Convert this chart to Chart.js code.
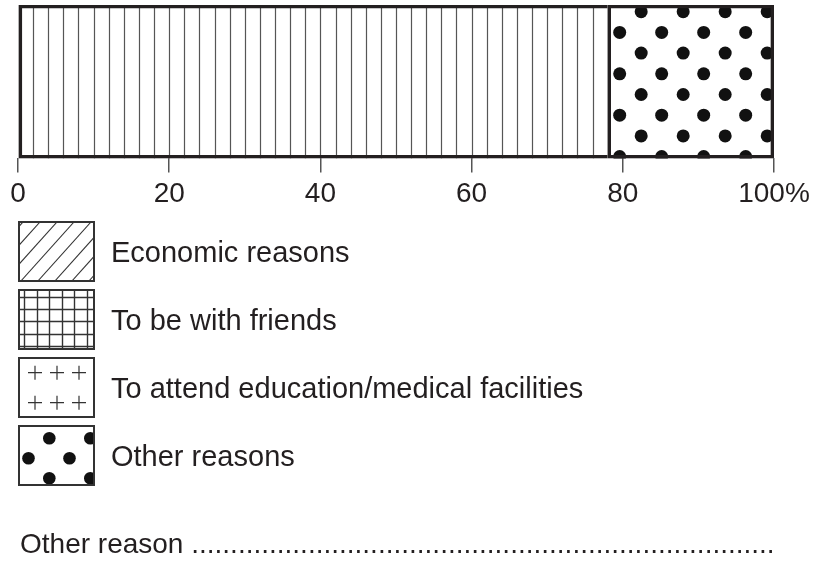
<!DOCTYPE html>
<html><head><meta charset="utf-8">
<script src="https://cdn.jsdelivr.net/npm/chart.js@4"></script>
<style>html,body{margin:0;padding:0;background:#fff}canvas{display:block}</style>
</head><body>
<canvas id="c" width="816" height="568"></canvas>
<script>
// ---- data ----
const categories = [''];
const segmentNames = ['Other reason', 'Other reasons'];
const segmentValues = [78, 22];
const legendLabels = ['Economic reasons', 'To be with friends', 'To attend education/medical facilities', 'Other reasons'];
const tickLabels = ['0', '20', '40', '60', '80', '100%'];
const answerLabel = 'Other reason';

// ---- styles ----
const FONT = '"Liberation Sans", Arial, Helvetica, sans-serif';
const INK = '#231f20';
const segmentPatterns = ['vlines', 'dots'];
const legendPatterns = ['diagonal', 'grid', 'plus', 'dots'];
const LINE_STEP = 2;
const BAR_DOTS = {oy: 6.7, dy: 20.7, evenX: 33.5, oddX: 12, dx: 42, r: 6.5};
const LEG_DOTS = {oy: 13.3, dy: 20, evenX: 31.3, oddX: 10.5, dx: 41, r: 6.3};
const LEG = {x: 18, w: 77, h: 61, top: 221, gap: 68, textX: 111};

function drawDots(ctx, L, T, R, B, o) {
  ctx.fillStyle = '#111';
  for (let row = 0; ; row++) {
    const y = T + o.oy + row * o.dy;
    if (y - o.r > B) break;
    let x = L + (row % 2 === 0 ? o.evenX : o.oddX);
    for (; x - o.r < R; x += o.dx) {
      ctx.beginPath(); ctx.arc(x, y, o.r, 0, Math.PI * 2); ctx.fill();
    }
  }
}

function drawLegendPattern(ctx, kind, L, T, W, H) {
  const R = L + W, B = T + H;
  ctx.save();
  ctx.beginPath(); ctx.rect(L, T, W, H); ctx.clip();
  ctx.strokeStyle = '#333';
  if (kind === 'diagonal') {
    ctx.lineWidth = 1.1;
    const dx = H * 0.9, sp = 17;
    for (let bx = L + 2 - sp * 5; bx < R + sp; bx += sp) {
      ctx.beginPath(); ctx.moveTo(bx, B); ctx.lineTo(bx + dx, T); ctx.stroke();
    }
  } else if (kind === 'grid') {
    ctx.lineWidth = 1.4;
    for (let x = L + 6; x < R; x += 12.5) {
      ctx.beginPath(); ctx.moveTo(Math.round(x) + 0.5, T); ctx.lineTo(Math.round(x) + 0.5, B); ctx.stroke();
    }
    for (let y = T + 7.7; y < B; y += 12.4) {
      ctx.beginPath(); ctx.moveTo(L, Math.round(y) + 0.5); ctx.lineTo(R, Math.round(y) + 0.5); ctx.stroke();
    }
  } else if (kind === 'plus') {
    ctx.lineWidth = 1.2;
    const a = 7;
    for (let ry = 0; ry < 2; ry++) {
      for (let cx = 0; cx < 3; cx++) {
        const x = L + 17 + cx * 22, y = T + 15.7 + ry * 30;
        ctx.beginPath();
        ctx.moveTo(x - a, y); ctx.lineTo(x + a, y);
        ctx.moveTo(x, y - a); ctx.lineTo(x, y + a);
        ctx.stroke();
      }
    }
  } else if (kind === 'dots') {
    drawDots(ctx, L, T, R, B, LEG_DOTS);
  }
  ctx.restore();
  ctx.strokeStyle = '#333'; ctx.lineWidth = 2;
  ctx.strokeRect(L + 1, T + 1, W - 2, H - 2);
}

const patternPlugin = {
  id: 'patterns',
  beforeDatasetsDraw(chart) {
    const ctx = chart.ctx, xs = chart.scales.x;
    let cum = 0;
    chart.data.datasets.forEach((ds, i) => {
      const start = cum, end = cum + ds.data[0];
      cum = end;
      chart.getDatasetMeta(i).data.forEach(el => {
        const p = el.getProps(['x', 'y', 'base', 'height'], true);
        const L = Math.min(p.x, p.base), R = Math.max(p.x, p.base);
        const T = p.y - p.height / 2, B = p.y + p.height / 2;
        ctx.save();
        ctx.beginPath(); ctx.rect(L, T, R - L, B - T); ctx.clip();
        ctx.fillStyle = '#fff'; ctx.fillRect(L, T, R - L, B - T);
        if (segmentPatterns[i] === 'vlines') {
          ctx.strokeStyle = '#555'; ctx.lineWidth = 1.2;
          for (let v = start + LINE_STEP; v < end - 0.01; v += LINE_STEP) {
            const px = Math.round(xs.getPixelForValue(v)) + 0.5;
            ctx.beginPath(); ctx.moveTo(px, T); ctx.lineTo(px, B); ctx.stroke();
          }
        } else {
          drawDots(ctx, L, T, R, B, BAR_DOTS);
        }
        ctx.restore();
      });
    });
  },
  afterDraw(chart) {
    const ctx = chart.ctx;
    ctx.save();
    ctx.fillStyle = INK;
    ctx.textBaseline = 'alphabetic';
    ctx.textAlign = 'left';
    legendLabels.forEach((lab, i) => {
      const T = LEG.top + i * LEG.gap;
      drawLegendPattern(ctx, legendPatterns[i], LEG.x, T, LEG.w, LEG.h);
      ctx.fillStyle = INK;
      ctx.font = '29px ' + FONT;
      ctx.fillText(lab, LEG.textX, T + LEG.h / 2 + 10.5);
    });
    ctx.font = '28px ' + FONT;
    const ax = 20, ay = 553, endX = 778;
    const head = answerLabel + ' ';
    ctx.fillText(head, ax, ay);
    const hw = ctx.measureText(head).width;
    let dots = '';
    while (ctx.measureText(dots + '.').width <= endX - ax - hw) dots += '.';
    ctx.fillText(dots, ax + hw, ay);
    ctx.restore();
  }
};

const datasets = segmentValues.map((v, i) => ({
  label: segmentNames[i],
  data: [v],
  backgroundColor: 'rgba(0,0,0,0)',
  borderColor: INK,
  borderWidth: i === segmentValues.length - 1 ? 3 : {top: 3, bottom: 3, left: 3, right: 0},
  borderSkipped: false,
  barPercentage: 1,
  categoryPercentage: 1
}));

new Chart(document.getElementById('c'), {
  type: 'bar',
  data: {labels: categories, datasets},
  options: {
    indexAxis: 'y',
    responsive: false,
    devicePixelRatio: 1,
    animation: false,
    layout: {padding: {top: 5, left: 18, right: 42, bottom: 352}},
    plugins: {legend: {display: false}, tooltip: {enabled: false}},
    scales: {
      x: {
        stacked: true, min: 0, max: 100,
        border: {display: false},
        grid: {drawOnChartArea: false, drawTicks: true, tickLength: 14, color: '#555', lineWidth: 1.5},
        ticks: {
          stepSize: 20, padding: 5, color: INK, maxRotation: 0, autoSkip: false,
          font: {family: FONT, size: 28},
          callback: (v, i) => tickLabels[i]
        }
      },
      y: {stacked: true, display: false}
    }
  },
  plugins: [patternPlugin]
});
</script>
</body></html>
